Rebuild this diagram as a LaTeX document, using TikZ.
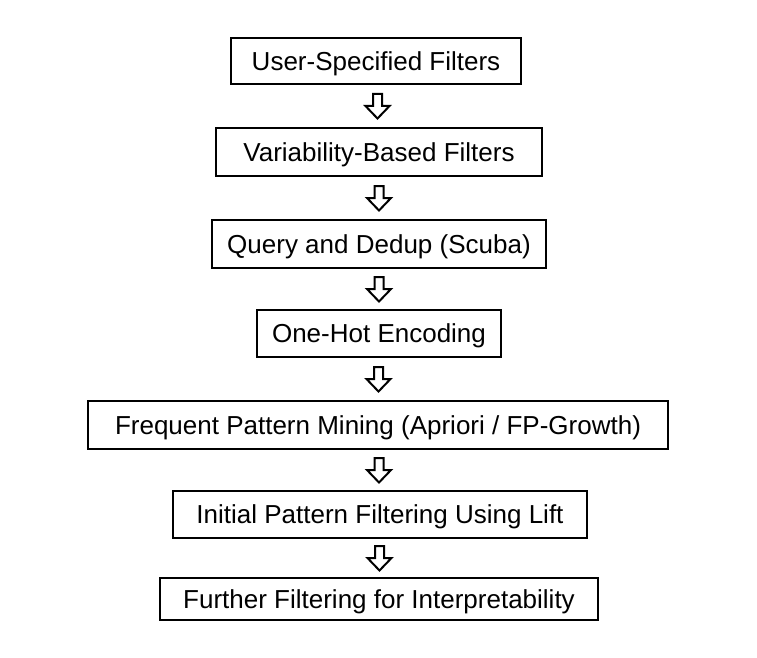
\documentclass[tikz,border=0pt]{standalone}
\usepackage{fontspec}
\setmainfont{Liberation Sans}
\usetikzlibrary{calc}
\begin{document}
\begin{tikzpicture}[x=1pt,y=-1pt,
  stepbox/.style={draw=black, line width=2pt, inner sep=0pt, minimum height=46pt, text height=18.6pt, text depth=0pt, font=\fontsize{26}{30}\selectfont},
  hollow/.style={draw=black, line width=2pt, fill=white, line join=miter}]
\useasboundingbox (0,0) rectangle (757,658);
\node[stepbox, minimum width=290pt] (n1) at (376,61) {User-Specified Filters};
\node[stepbox, minimum width=326pt, minimum height=48pt] (n2) at (379,152) {Variability-Based Filters};
\node[stepbox, minimum width=334pt, minimum height=48pt] (n3) at (379,244) {Query and Dedup (Scuba)};
\node[stepbox, minimum width=244pt, minimum height=47pt] (n4) at (379,333.5) {One-Hot Encoding};
\node[stepbox, minimum width=580pt, minimum height=48pt] (n5) at (378,425) {Frequent Pattern Mining (Apriori / FP-Growth)};
\node[stepbox, minimum width=414pt, minimum height=47pt] (n6) at (380,514.5) {Initial Pattern Filtering Using Lift};
\node[stepbox, minimum width=438pt, minimum height=42pt] (n7) at (379,599) {Further Filtering for Interpretability};
\foreach \a/\b in {n1/n2,n2/n3,n3/n4,n4/n5,n5/n6,n6/n7}{
  \coordinate (m) at ($(\a.south)!0.5!(\b.north)$);
  \draw[hollow] (m) ++(-4.5,-12) -- ++(9,0) -- ++(0,12) -- ++(7.5,0) -- ++(-12,12.5) -- ++(-12,-12.5) -- ++(7.5,0) -- cycle;
}
\end{tikzpicture}
\end{document}
